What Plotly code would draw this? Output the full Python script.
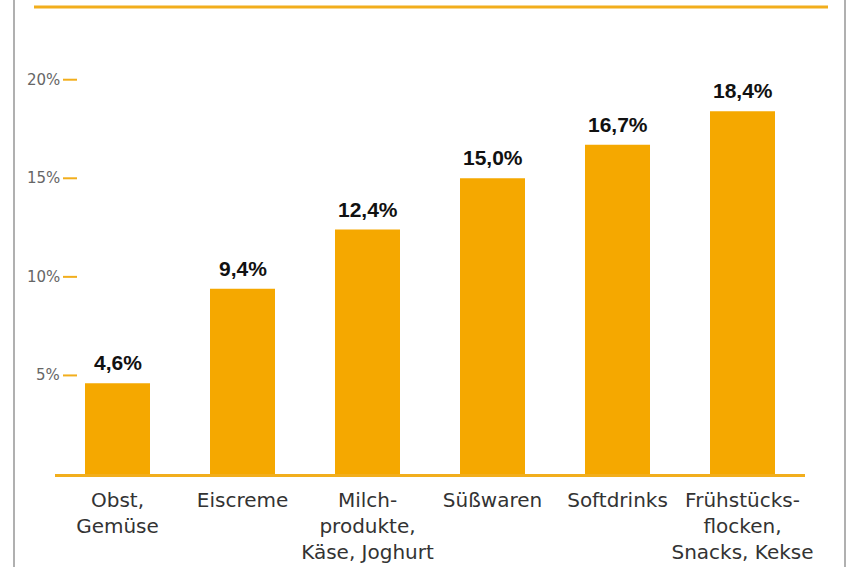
import plotly.graph_objects as go

categories = ["Obst,<br>Gemüse", "Eiscreme", "Milch-<br>produkte,<br>Käse, Joghurt",
              "Süßwaren", "Softdrinks", "Frühstücks-<br>flocken,<br>Snacks, Kekse"]
values = [4.6, 9.4, 12.4, 15.0, 16.7, 18.4]
y_ticks = [5, 10, 15, 20]
y_tick_labels = ["5%", "10%", "15%", "20%"]

ORANGE = "#F5A800"
LINE = "#F2AE1C"

W, H = 852, 567
L, R, T, B = 55, 47, 60, 93
pw, ph = W - L - R, H - T - B

def px_x(x):
    return (x - L) / pw

def px_y(y):
    return (H - B - y) / ph

labels = [f"{v:.1f}%".replace(".", ",") for v in values]
xs = list(range(len(categories)))

fig = go.Figure(go.Bar(
    x=xs, y=values, width=0.52,
    marker=dict(color=ORANGE, line=dict(width=0)),
    hoverinfo="skip",
))

shapes = []
annotations = []
for t, lab in zip(y_ticks, y_tick_labels):
    shapes.append(dict(type="line", xref="paper", yref="y", x0=px_x(63), x1=px_x(77),
                       y0=t, y1=t, line=dict(color=LINE, width=2)))
    annotations.append(dict(xref="paper", yref="y", x=px_x(62), y=t, text=lab, showarrow=False,
                            xanchor="right", yanchor="middle",
                            font=dict(family="DejaVu Sans", size=15, color="#666666")))

for x, v, lab in zip(xs, values, labels):
    annotations.append(dict(xref="x", yref="y", x=x, y=v, text=lab, showarrow=False,
                            xanchor="center", yanchor="bottom", yshift=7,
                            font=dict(family="Liberation Sans, Arial", size=21,
                                      color="#111111", weight="bold")))

# top rule
shapes.append(dict(type="line", xref="paper", yref="paper", x0=px_x(34), x1=px_x(828),
                   y0=px_y(7), y1=px_y(7), line=dict(color=LINE, width=3)))
# frame borders
for xx in (14, 845):
    shapes.append(dict(type="line", xref="paper", yref="paper", x0=px_x(xx), x1=px_x(xx),
                       y0=px_y(H), y1=px_y(0), line=dict(color="#b0b0b0", width=2)))

fig.update_layout(
    width=W, height=H, margin=dict(l=L, r=R, t=T, b=B, autoexpand=False),
    paper_bgcolor="white", plot_bgcolor="white",
    showlegend=False, bargap=0.48,
    shapes=shapes, annotations=annotations,
    xaxis=dict(tickmode="array", tickvals=xs, ticktext=categories, automargin=False,
               range=[-0.5, len(categories) - 0.5], showgrid=False, zeroline=False,
               showline=True, linecolor=LINE, linewidth=3, ticks="",
               ticklabelstandoff=6,
               tickfont=dict(family="DejaVu Sans", size=20, color="#333333")),
    yaxis=dict(range=[0, 21], showgrid=False, zeroline=False, showline=False, automargin=False,
               showticklabels=False, ticks=""),
)

fig.write_html("out.html", config={"displayModeBar": False},
               post_script="document.body.style.margin='0';")
